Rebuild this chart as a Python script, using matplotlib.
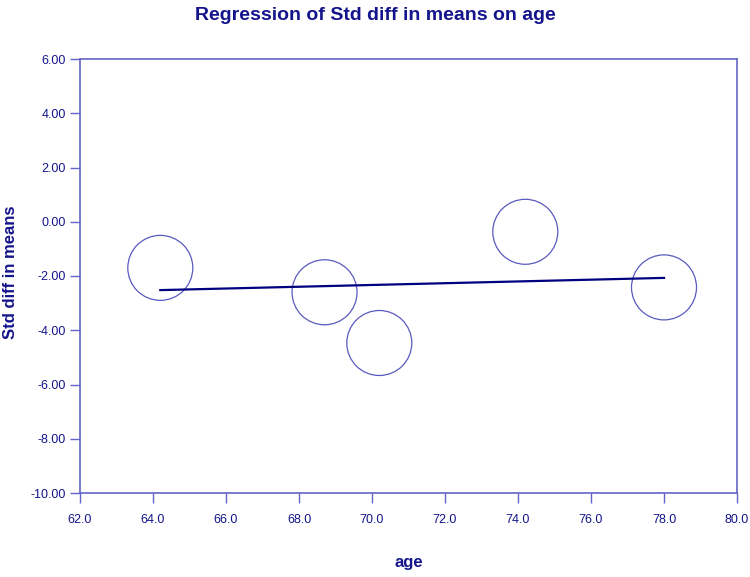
import matplotlib
matplotlib.use('Agg')
import matplotlib.pyplot as plt

# Study data
age = [64.2, 68.7, 70.2, 74.2, 78.0]
std_diff = [-1.70, -2.60, -4.47, -0.37, -2.42]

# Fitted regression line (end points)
reg_age = [64.2, 78.0]
reg_std_diff = [-2.52, -2.07]

x_ticks = [62, 64, 66, 68, 70, 72, 74, 76, 78, 80]
y_ticks = [-10, -8, -6, -4, -2, 0, 2, 4, 6]

navy = '#14148c'
frame = '#6464c8'

plt.rcParams['font.family'] = ['Liberation Sans', 'DejaVu Sans']

fig = plt.figure(figsize=(7.5, 5.77), dpi=100)
ax = fig.add_axes([80 / 750, 84 / 577, 657 / 750, 434 / 577])

ax.scatter(age, std_diff, s=2190, facecolors='none', edgecolors='#5a5abf', linewidths=0.9, zorder=3)
ax.plot(reg_age, reg_std_diff, color='#000080', linewidth=1.6, zorder=4)

ax.set_xlim(62, 80)
ax.set_ylim(-10, 6)
ax.set_xticks(x_ticks)
ax.set_yticks(y_ticks)
ax.set_xticklabels(['%.1f' % v for v in x_ticks])
ax.set_yticklabels(['%.2f' % v for v in y_ticks])

for side in ax.spines.values():
    side.set_color(frame)
    side.set_linewidth(1.2)

ax.tick_params(axis='both', direction='out', length=7, width=1.0, color=frame,
               labelcolor=navy, labelsize=9)
ax.tick_params(axis='x', pad=8)
ax.tick_params(axis='y', pad=3)

# axis titles and chart title
fig.text(409 / 750, 1 - 563 / 577, 'age', ha='center', va='center',
         color=navy, fontsize=12, fontweight='bold')
fig.text(11 / 750, 1 - 272 / 577, 'Std diff in means', ha='center', va='center', rotation=90,
         color=navy, fontsize=12, fontweight='bold')
fig.text(0.5, 1 - 16 / 577, 'Regression of Std diff in means on age', ha='center', va='center',
         color=navy, fontsize=14, fontweight='bold')

plt.savefig('out.png', dpi=100)
